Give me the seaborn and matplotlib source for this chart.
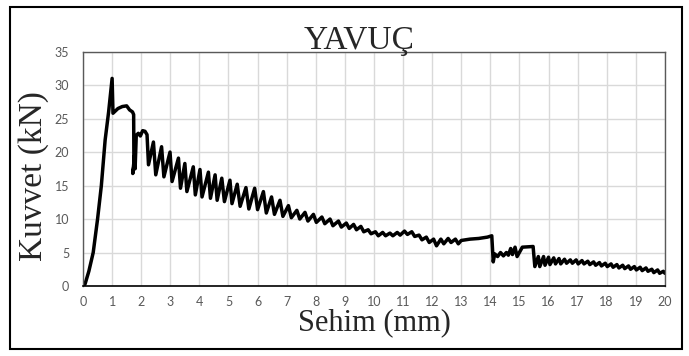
# Load libraries
import matplotlib.pyplot as plt
import pandas as pd
import seaborn as sns
from matplotlib.patches import Rectangle

# Chart data (deflection in mm, force in kN)
rise_x = [0.0, 0.07, 0.2, 0.35, 0.5, 0.63, 0.76, 0.88, 1.0]
rise_y = [0.0, 0.3, 2.2, 5.0, 10.0, 15.0, 21.8, 26.0, 31.0]

plateau_x = [1.03, 1.2, 1.35, 1.5, 1.6, 1.7, 1.74, 1.75, 1.71, 1.77, 1.79, 1.83,
             1.9, 1.97, 2.05, 2.13, 2.2, 2.25]
plateau_y = [25.8, 26.5, 26.8, 26.9, 26.3, 26.0, 25.6, 18.0, 16.8, 19.5, 17.5, 22.5,
             22.8, 22.4, 23.2, 23.1, 22.6, 18.1]

# saw-tooth part: peak then valley
teeth_x = [2.42, 2.50, 2.70, 2.78, 2.99, 3.06, 3.28, 3.35, 3.50, 3.57,
           3.79, 3.86, 4.02, 4.09, 4.31, 4.38, 4.54, 4.61, 4.77, 4.86,
           5.05, 5.12, 5.30, 5.40, 5.60, 5.70, 5.90, 6.00, 6.20, 6.30,
           6.48, 6.58, 6.77, 6.87, 7.06, 7.16, 7.35, 7.45, 7.63, 7.73,
           7.92, 8.02, 8.21, 8.31, 8.49, 8.59, 8.78, 8.88, 9.05, 9.15,
           9.30, 9.40, 9.55, 9.65, 9.80, 9.90, 10.05, 10.15, 10.30, 10.40,
           10.55, 10.65, 10.80, 10.90, 11.05, 11.15, 11.30, 11.40, 11.55, 11.65,
           11.80, 11.90, 12.05, 12.15, 12.30, 12.40, 12.55, 12.65, 12.80, 12.90]
teeth_y = [21.5, 16.6, 20.8, 16.3, 20.0, 15.6, 19.1, 14.6, 18.3, 14.1,
           17.8, 13.6, 17.4, 13.3, 17.0, 13.1, 16.6, 12.8, 16.1, 12.6,
           15.8, 12.3, 15.2, 11.9, 14.7, 11.5, 14.6, 11.4, 14.1, 10.9,
           13.3, 10.7, 12.8, 10.4, 12.0, 10.2, 11.3, 10.0, 11.0, 9.7,
           10.7, 9.5, 10.3, 9.3, 10.0, 9.0, 9.7, 8.8, 9.4, 8.6,
           9.2, 8.4, 8.9, 8.1, 8.4, 7.8, 8.1, 7.5, 8.0, 7.5,
           7.9, 7.5, 8.0, 7.6, 8.2, 7.7, 8.1, 7.4, 7.6, 6.9,
           7.3, 6.5, 7.0, 6.0, 7.0, 6.3, 7.1, 6.5, 7.0, 6.3]

drop_x = [13.0, 13.3, 13.6, 13.9, 14.05, 14.1, 14.15, 14.25, 14.35, 14.45,
          14.55, 14.62, 14.7, 14.76, 14.85, 14.92, 15.1, 15.47, 15.53]
drop_y = [6.8, 7.0, 7.1, 7.3, 7.5, 3.6, 4.8, 4.4, 5.0, 4.5,
          5.0, 4.6, 5.6, 4.7, 5.8, 4.4, 5.8, 5.9, 2.9]

tail_x = [15.65, 15.70, 15.83, 15.88, 16.00, 16.05, 16.18, 16.24, 16.36, 16.42,
          16.55, 16.62, 16.75, 16.82, 16.95, 17.02, 17.15, 17.22, 17.35, 17.42,
          17.55, 17.62, 17.75, 17.82, 17.95, 18.02, 18.15, 18.22, 18.35, 18.42,
          18.55, 18.62, 18.75, 18.82, 18.95, 19.02, 19.15, 19.22, 19.35, 19.42,
          19.55, 19.62, 19.75, 19.82, 19.95, 20.0]
tail_y = [4.4, 2.9, 4.4, 3.1, 4.3, 3.2, 4.2, 3.3, 4.1, 3.3,
          4.0, 3.4, 3.9, 3.4, 3.9, 3.3, 3.8, 3.3, 3.7, 3.2,
          3.6, 3.1, 3.5, 3.0, 3.4, 2.9, 3.3, 2.8, 3.2, 2.7,
          3.1, 2.6, 3.0, 2.5, 2.9, 2.4, 2.8, 2.3, 2.7, 2.2,
          2.5, 2.0, 2.4, 1.9, 2.2, 1.9]

x_ticks = list(range(0, 21))
y_ticks = list(range(0, 36, 5))

# Put the pieces together in drawing order
df = pd.DataFrame({
    "Sehim": rise_x + plateau_x + teeth_x + drop_x + tail_x,
    "Kuvvet": rise_y + plateau_y + teeth_y + drop_y + tail_y,
})

sns.set_style("white")

fig = plt.figure(figsize=(6.89, 3.56), dpi=100)
ax = fig.add_axes([0.1205, 0.1966, 0.8445, 0.6584])

sns.lineplot(data=df, x="Sehim", y="Kuvvet", sort=False, estimator=None,
             color="black", linewidth=2.5, ax=ax)

ax.set_xlim(0, 20)
ax.set_ylim(0, 35)
ax.set_xticks(x_ticks)
ax.set_yticks(y_ticks)
ax.grid(True, color="#d9d9d9", linewidth=1)
ax.tick_params(length=0, labelsize=9, colors="#595959")
ax.tick_params(axis="y", pad=10)
ax.tick_params(axis="x", pad=7)
for lab in ax.get_xticklabels() + ax.get_yticklabels():
    lab.set_family("Lato")

for side in ["top", "right", "left"]:
    ax.spines[side].set_color("#595959")
    ax.spines[side].set_linewidth(1)
ax.spines["bottom"].set_color("black")
ax.spines["bottom"].set_linewidth(1.2)

serif = "Liberation Serif"
ax.set_title("YAVUÇ", fontsize=24, family=serif, pad=2, x=0.475)
ax.set_xlabel("Sehim (mm)", fontsize=22, family=serif, labelpad=0)
ax.set_ylabel("Kuvvet (kN)", fontsize=24, family=serif, labelpad=2)
ax.yaxis.set_label_coords(-0.058, 0.47)

# Outer frame around the whole chart
fig.patches.append(Rectangle((0.015, 0.02), 0.975, 0.96, transform=fig.transFigure,
                             fill=False, edgecolor="black", linewidth=1.5))

plt.savefig("out.png", dpi=100)
